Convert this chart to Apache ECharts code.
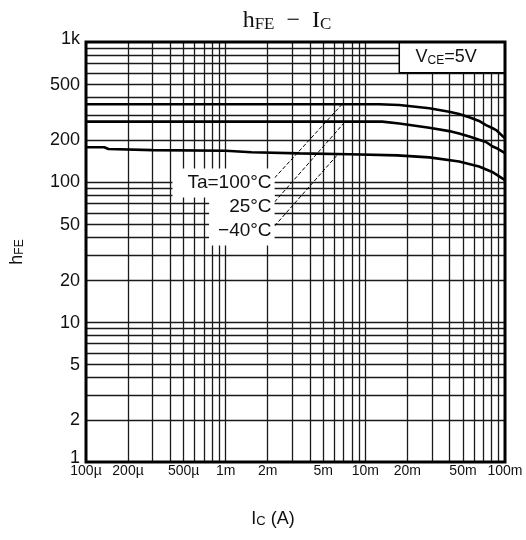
<!DOCTYPE html>
<html>
<head>
<meta charset="utf-8">
<script src="https://cdn.jsdelivr.net/npm/echarts@6/dist/echarts.min.js"></script>
<style>html,body{margin:0;padding:0;background:#fff}#c{width:526px;height:540px}</style>
</head>
<body>
<div id="c"></div>
<script>
// ---- data ----
const xTickValues = [1e-4, 2e-4, 5e-4, 1e-3, 2e-3, 5e-3, 1e-2, 2e-2, 5e-2, 1e-1];
const xTickLabels = ['100µ', '200µ', '500µ', '1m', '2m', '5m', '10m', '20m', '50m', '100m'];
const yTickValues = [1, 2, 5, 10, 20, 50, 100, 200, 500, 1000];
const yTickLabels = ['1', '2', '5', '10', '20', '50', '100', '200', '500', '1k'];

const gridMultipliers = [1, 2, 3, 4, 5, 6, 7, 8, 9];
const xDecades = [1e-4, 1e-3, 1e-2];
const yDecades = [1, 10, 100];

// Ta = 100°C
const ta100Ic  = [0.0001, 0.0125, 0.0175, 0.0287, 0.0398, 0.0469, 0.0555, 0.0652, 0.0731, 0.0810, 0.0864, 0.1];
const ta100Hfe = [359, 359, 355, 336, 318, 306, 290, 273, 255, 243, 235, 205];
// Ta = 25°C
const ta25Ic  = [0.0001, 0.0132, 0.0175, 0.0287, 0.0398, 0.0469, 0.0555, 0.0652, 0.0731, 0.0810, 0.0864, 0.1];
const ta25Hfe = [270, 270, 262, 244, 231, 222, 211, 200, 193, 180, 175, 161];
// Ta = -40°C
const taM40Ic  = [0.0001, 0.000135, 0.000145, 0.0003, 0.001, 0.00153, 0.00338, 0.00769, 0.0169, 0.0287, 0.0469, 0.0652, 0.0810, 0.1];
const taM40Hfe = [177, 177, 172, 169, 167, 163, 160, 158, 155, 150, 140, 129, 118, 103];

// annotation leader lines (start at label, end on curve)
const leaderStartIc = [0.00224, 0.00224, 0.00224];
const leaderStartHfe = [107, 72, 48.5];
const leaderEndIc = [0.00674, 0.00708, 0.0063];
const leaderEndHfe = [355, 266, 156];
const annotLabels = ['Ta=100°C', '25°C', '−40°C'];

// condition box extents
const boxIc = [0.0175, 0.1];
const boxHfe = [604, 1000];

// ---- build ----
const FONT = 'Liberation Sans';
const SERIF = 'Liberation Serif';
function pairs(xs, ys) { return xs.map((x, i) => [x, ys[i]]); }

const xGrid = [];
xDecades.forEach(d => gridMultipliers.forEach(m => { const v = d * m; if (v > 1e-4 * 1.0001) xGrid.push(v); }));
const yGrid = [];
yDecades.forEach(d => gridMultipliers.forEach(m => { const v = d * m; if (v > 1.0001) yGrid.push(v); }));

const curveStyle = { color: '#000', width: 2.6 };
const leaderStyle = { color: '#000', width: 1, type: [4, 2] };
const labelPads = [[5, 3, 5, 15], [5, 3, 5, 20], [5, 3, 5, 9]];
const yLabelOffsets = [-4, 0, 1, 1, 1, 1, 0, 0, 1, -3];

const option = {
  animation: false,
  backgroundColor: '#fff',
  title: {
    text: '{h|h}{s|FE}{h|  −  I}{s|C}',
    left: 282, top: 4, textAlign: 'center',
    textStyle: {
      fontWeight: 'normal',
      rich: {
        h: { fontFamily: SERIF, fontSize: 24, fontWeight: 'normal', color: '#111', verticalAlign: 'bottom' },
        s: { fontFamily: SERIF, fontSize: 17, fontWeight: 'normal', color: '#111', verticalAlign: 'bottom' }
      }
    }
  },
  grid: { left: 86, right: 21, top: 42, bottom: 78, show: false },
  xAxis: {
    type: 'log', logBase: 10, min: 1e-4, max: 0.1,
    axisLine: { show: false }, axisTick: { show: false }, axisLabel: { show: false },
    splitLine: { show: false },
    name: '{a|I}{b|C}{a| (A)}', nameLocation: 'middle', nameGap: 48,
    nameTextStyle: {
      padding: [0, 45, 0, 0],
      rich: {
        a: { fontFamily: FONT, fontSize: 18, color: '#111', verticalAlign: 'bottom' },
        b: { fontFamily: FONT, fontSize: 13, color: '#111', verticalAlign: 'bottom' }
      }
    }
  },
  yAxis: {
    type: 'log', logBase: 10, min: 1, max: 1000,
    axisLine: { show: false }, axisTick: { show: false }, axisLabel: { show: false },
    splitLine: { show: false },
    name: '{a|h}{b|FE}', nameLocation: 'middle', nameRotate: 90, nameGap: 60,
    nameTextStyle: {
      rich: {
        a: { fontFamily: FONT, fontSize: 18, color: '#111', verticalAlign: 'bottom' },
        b: { fontFamily: FONT, fontSize: 12, color: '#111', verticalAlign: 'bottom' }
      }
    }
  },
  series: [
    { // grid lines
      type: 'line', data: [[1e-4, 1]], showSymbol: false, lineStyle: { opacity: 0 }, z: 1, silent: true,
      markLine: {
        z: 1, silent: true, symbol: ['none', 'none'], label: { show: false }, animation: false,
        lineStyle: { color: '#1a1a1a', width: 1.3, type: 'solid' },
        data: xGrid.map(v => [{ coord: [v, 1] }, { coord: [v, 1000] }])
          .concat(yGrid.map(v => [{ coord: [1e-4, v] }, { coord: [0.1, v] }]))
      }
    },
    { // condition box
      type: 'line', data: [[1e-4, 1]], showSymbol: false, lineStyle: { opacity: 0 }, z: 3, silent: true,
      markArea: {
        z: 3, silent: true,
        itemStyle: { color: '#fff', borderColor: '#000', borderWidth: 1.5 },
        label: {
          show: true, position: 'inside', offset: [-6, 0],
          formatter: '{a|V}{b|CE}{a|=5V}',
          rich: {
            a: { fontFamily: FONT, fontSize: 18, color: '#111', verticalAlign: 'bottom' },
            b: { fontFamily: FONT, fontSize: 12, color: '#111', verticalAlign: 'bottom' }
          }
        },
        data: [[{ coord: [boxIc[0], boxHfe[0]] }, { coord: [boxIc[1], boxHfe[1]] }]]
      }
    },
    { name: 'Ta=100°C', type: 'line', data: pairs(ta100Ic, ta100Hfe), symbol: 'none', lineStyle: curveStyle, z: 4 },
    { name: 'Ta=25°C', type: 'line', data: pairs(ta25Ic, ta25Hfe), symbol: 'none', lineStyle: curveStyle, z: 4 },
    { name: 'Ta=-40°C', type: 'line', data: pairs(taM40Ic, taM40Hfe), symbol: 'none', lineStyle: curveStyle, z: 4 },
    ...annotLabels.map((t, i) => ({
      type: 'line', symbol: 'none', lineStyle: leaderStyle, z: 4, silent: true,
      data: [[leaderStartIc[i], leaderStartHfe[i]], [leaderEndIc[i], leaderEndHfe[i]]]
    })),
    { // annotation labels
      type: 'scatter', symbolSize: 0, z: 6, silent: true, clip: false,
      itemStyle: { color: '#fff', opacity: 1 },
      emphasis: { disabled: true },
      data: annotLabels.map((t, i) => ({
        value: [leaderStartIc[i], leaderStartHfe[i]],
        label: { padding: labelPads[i] }
      })),
      label: {
        show: true, position: 'left', distance: 0, offset: [0, 5], opacity: 1,
        fontFamily: FONT, fontSize: 19, color: '#111', backgroundColor: '#ffffff',
        formatter: p => annotLabels[p.dataIndex]
      }
    },
    { // x tick labels
      type: 'scatter', symbolSize: 0, z: 6, silent: true, clip: false,
      itemStyle: { color: '#fff', opacity: 1 },
      emphasis: { disabled: true },
      data: xTickValues.map(v => [v, 1]),
      label: {
        show: true, position: 'bottom', distance: 2, opacity: 1,
        fontFamily: FONT, fontSize: 14, color: '#111',
        formatter: p => xTickLabels[p.dataIndex]
      }
    },
    { // y tick labels
      type: 'scatter', symbolSize: 0, z: 6, silent: true, clip: false,
      itemStyle: { color: '#fff', opacity: 1 },
      emphasis: { disabled: true },
      data: yTickValues.map((v, i) => ({ value: [1e-4, v], label: { offset: [0, yLabelOffsets[i]] } })),
      label: {
        show: true, position: 'left', distance: 6, opacity: 1,
        fontFamily: FONT, fontSize: 18, color: '#111',
        formatter: p => yTickLabels[p.dataIndex]
      }
    },
    { // frame
      type: 'line', data: [[1e-4, 1]], showSymbol: false, lineStyle: { opacity: 0 }, z: 10, silent: true,
      markArea: {
        z: 10, silent: true,
        itemStyle: { color: 'rgba(0,0,0,0)', borderColor: '#000', borderWidth: 3 },
        data: [[{ coord: [1e-4, 1] }, { coord: [0.1, 1000] }]]
      }
    }
  ]
};

const chart = echarts.init(document.getElementById('c'));
chart.setOption(option);
</script>
</body>
</html>
